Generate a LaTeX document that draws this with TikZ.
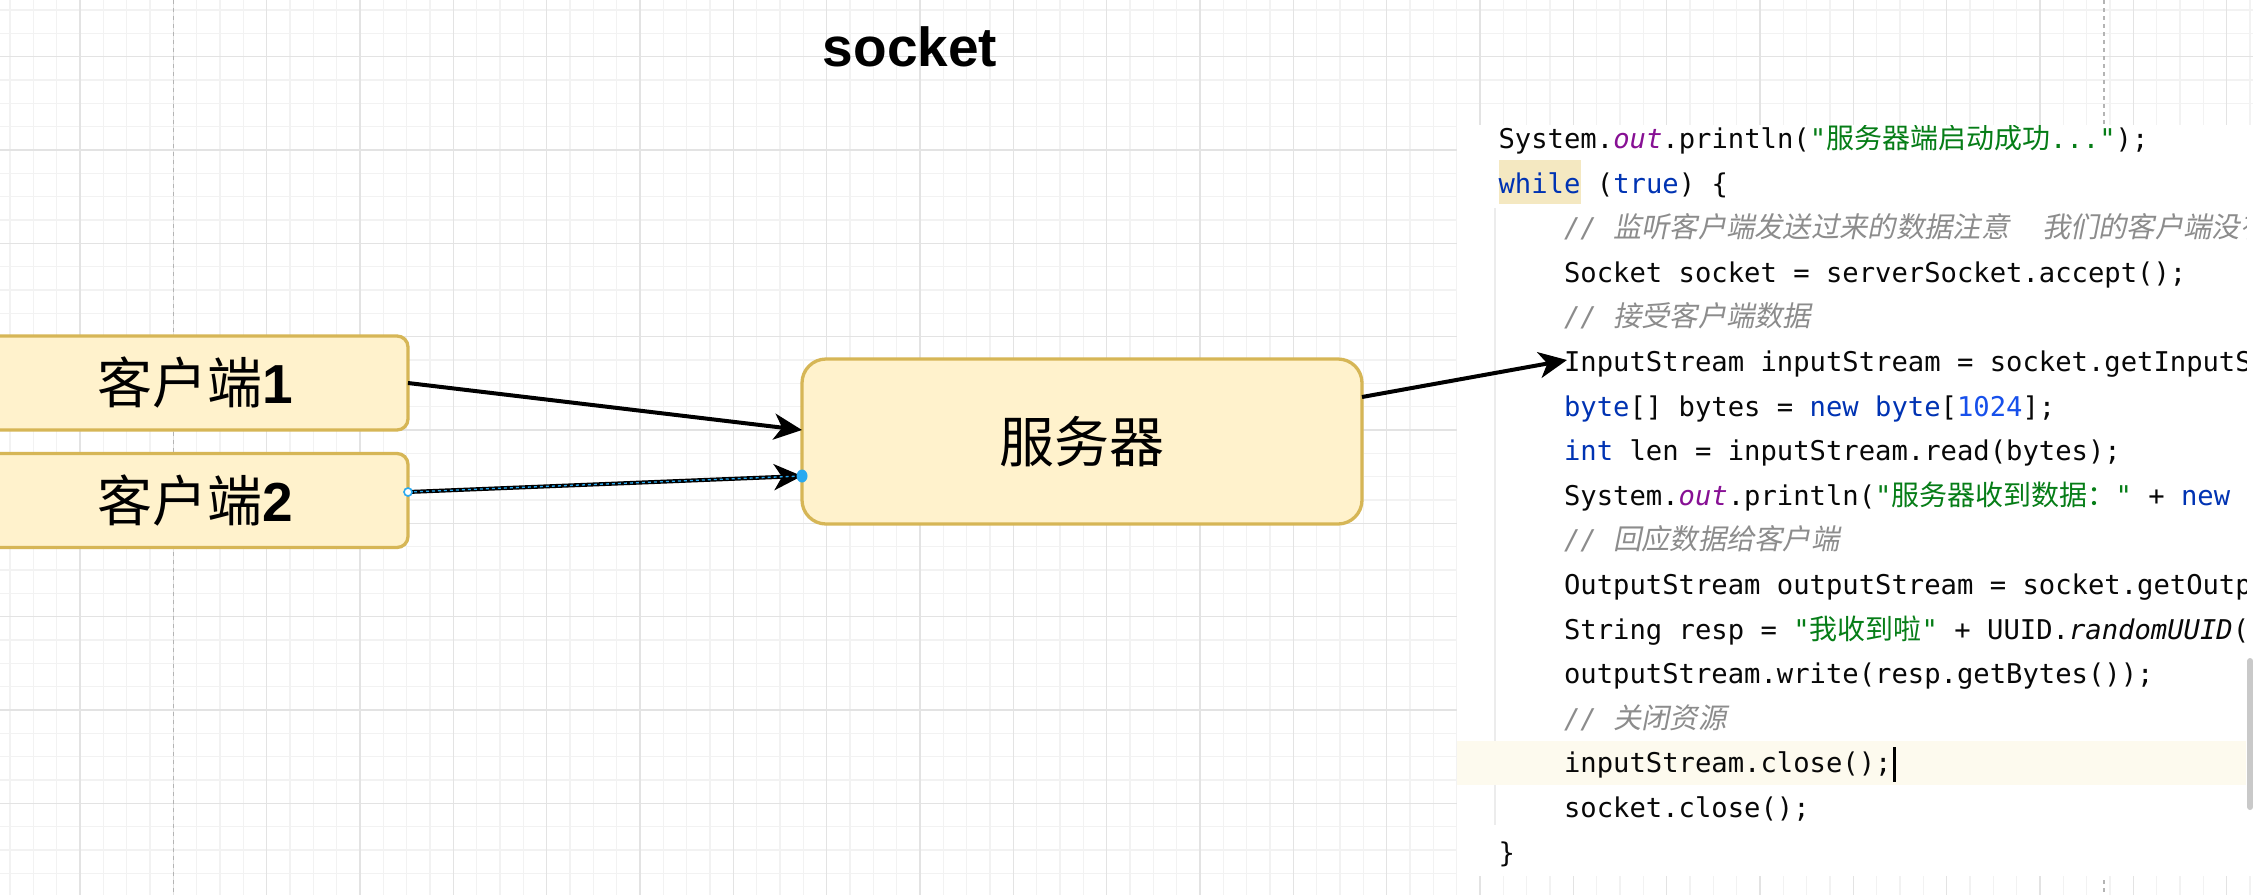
\documentclass[tikz,border=0pt]{standalone}
\usepackage{fontspec}
\setmainfont{Liberation Sans}
\setmonofont{DejaVu Sans Mono}
\newfontfamily\cjk{Noto Sans CJK SC}
\newfontfamily\cjkit[FakeSlant=0.2]{Noto Sans CJK SC}
\usetikzlibrary{arrows.meta,calc}
\definecolor{kw}{HTML}{0033B3}
\definecolor{num}{HTML}{1750EB}
\definecolor{str}{HTML}{067D17}
\definecolor{fld}{HTML}{871094}
\definecolor{cmt}{HTML}{8C8C8C}
\definecolor{codetext}{HTML}{080808}
\definecolor{boxfill}{HTML}{FFF2CC}
\definecolor{boxdraw}{HTML}{D6B656}
\definecolor{sel}{HTML}{29A9F0}
\definecolor{gridminor}{HTML}{F2F2F2}
\definecolor{gridmajor}{HTML}{E3E3E3}
\definecolor{pagebreak}{HTML}{B4B4B4}
\definecolor{whilebg}{HTML}{F4E8C1}
\definecolor{linebg}{HTML}{FDFAEE}
\definecolor{guide}{HTML}{ECECEC}
\definecolor{scrollc}{HTML}{C9C9C9}
\newcommand\KW[1]{\textcolor{kw}{#1}}
\newcommand\NUM[1]{\textcolor{num}{#1}}
\newcommand\STR[1]{\textcolor{str}{#1}}
\newcommand\FLD[1]{\textcolor{fld}{\itshape #1}}
\newcommand\CMT[1]{\textcolor{cmt}{\itshape #1}}
\newcommand\ITC[1]{{\itshape #1}}
\newcommand\cz[1]{{\cjk\fontsize{28}{28}\selectfont #1}}
\newcommand\czi[1]{{\cjkit\upshape\fontsize{28.3}{28}\selectfont #1}}
\begin{document}
\begin{tikzpicture}[x=1pt,y=-1pt,
  clientbox/.style={draw=boxdraw, fill=boxfill, line width=3.3pt, rounded corners=11pt,
    minimum width=425pt, minimum height=94pt, inner sep=0pt, outer sep=0pt,
    font=\fontsize{55}{60}\selectfont},
  serverbox/.style={draw=boxdraw, fill=boxfill, line width=3.3pt, rounded corners=24pt,
    minimum width=560pt, minimum height=165pt, inner sep=0pt, outer sep=0pt,
    font=\fontsize{55}{60}\selectfont},
  codeline/.style={anchor=base west, inner sep=0pt, outer sep=0pt, text=codetext,
    font=\ttfamily\fontsize{27.2}{30}\selectfont},
  conn/.style={line width=4pt, draw=black, -{Stealth[length=28pt,width=26pt,inset=8pt]}},
  minorline/.style={draw=gridminor, line width=1.2pt},
  majorline/.style={draw=gridmajor, line width=1.6pt},
  pageline/.style={draw=pagebreak, line width=1.6pt, dash pattern=on 4pt off 4pt}
]
\useasboundingbox (0,0) rectangle (2253,895);
\fill[white] (0,0) rectangle (2253,895);
% grid
\foreach \k in {0,...,96} { \draw[minorline] ({10+\k*23.3333},0) -- ({10+\k*23.3333},895); }
\foreach \k in {0,...,37} { \draw[minorline] (0,{10+\k*23.3333}) -- (2253,{10+\k*23.3333}); }
\foreach \k in {0,...,23} { \draw[majorline] ({80+\k*93.3333},0) -- ({80+\k*93.3333},895); }
\foreach \k in {0,...,8} { \draw[majorline] (0,{56.667+\k*93.3333}) -- (2253,{56.667+\k*93.3333}); }
\draw[pageline] (173.3,0) -- (173.3,895);
\draw[pageline] (2103.7,0) -- (2103.7,895);

% title
\node[anchor=base, inner sep=0pt, font=\bfseries\fontsize{55}{60}\selectfont] (title) at (910,66) {socket};

% code panel
\fill[white] (1457,125) rectangle (2253,876);
\draw[guide, line width=1.5pt] (1495,208) -- (1495,825);
\fill[scrollc, rounded corners=3pt] (2247,658) rectangle (2253,810);
\begin{scope}
\clip (1457,125) rectangle (2246,876);
\fill[linebg] (1457,741) rectangle (2246,785);
\fill[whilebg] (1498.6,160) rectangle (1580.5,204);
\node[codeline] (l0) at (1498.6,148.5) {System.\FLD{out}.println(\STR{"\cz{服务器端启动成功}..."});};
\node[codeline] (l1) at (1498.6,193.1) {\KW{while} (\KW{true}) \{};
\node[codeline] (l2) at (1564,237.7) {\CMT{//~\czi{监听客户端发送过来的数据注意}~~\czi{我们的客户端没有}}};
\node[codeline] (l3) at (1564,282.3) {Socket socket = serverSocket.accept();};
\node[codeline] (l4) at (1564,326.9) {\CMT{//~\czi{接受客户端数据}}};
\node[codeline] (l5) at (1564,371.5) {InputStream inputStream = socket.getInputStream();};
\node[codeline] (l6) at (1564,416.1) {\KW{byte}[] bytes = \KW{new} \KW{byte}[\NUM{1024}];};
\node[codeline] (l7) at (1564,460.7) {\KW{int} len = inputStream.read(bytes);};
\node[codeline] (l8) at (1564,505.3) {System.\FLD{out}.println(\STR{"\cz{服务器收到数据：}"} + \KW{new} String(bytes));};
\node[codeline] (l9) at (1564,549.9) {\CMT{//~\czi{回应数据给客户端}}};
\node[codeline] (l10) at (1564,594.5) {OutputStream outputStream = socket.getOutputStream();};
\node[codeline] (l11) at (1564,639.1) {String resp = \STR{"\cz{我收到啦}"} + UUID.\ITC{randomUUID}();};
\node[codeline] (l12) at (1564,683.7) {outputStream.write(resp.getBytes());};
\node[codeline] (l13) at (1564,728.3) {\CMT{//~\czi{关闭资源}}};
\node[codeline] (l14) at (1564,772.9) {inputStream.close();};
\node[codeline] (l15) at (1564,817.5) {socket.close();};
\node[codeline] (l16) at (1498.6,862.1) {\}};
\fill[black] (1892.5,747) rectangle (1895.5,782);
\end{scope}

% boxes
\node[clientbox] (c1) at (195.5,383) {{\cjk 客户端}\textbf{1}};
\node[clientbox] (c2) at (195.5,500.5) {{\cjk 客户端}\textbf{2}};
\node[serverbox] (srv) at (1082,441.5) {\cjk 服务器};

% connectors
\coordinate (a2s) at ($(c2.east)+(0,-8.5)$);
\coordinate (a2e) at ($(srv.west)+(0,34.5)$);
\draw[conn] (c1.east) -- ($(srv.west)+(0,-11.5)$);
\draw[conn] (a2s) -- (a2e);
\draw[sel, line width=1.3pt, dash pattern=on 3pt off 3pt] (a2s) -- (a2e);
\draw[sel, line width=1.6pt, fill=white] (a2s) circle (4pt);
\fill[sel] (a2e) ellipse (5.5pt and 6.5pt);
\draw[conn] ($(srv.east)+(0,-44.5)$) -- ($(l5.base west)+(3,-11.5)$);
\end{tikzpicture}
\end{document}
